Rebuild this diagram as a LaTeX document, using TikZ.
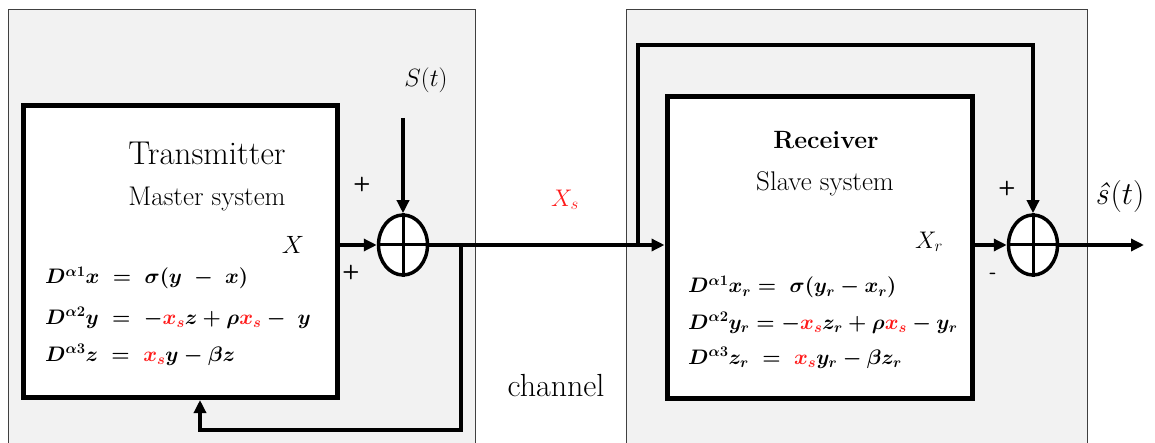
\RequirePackage{fix-cm}
\documentclass[tikz,border=0pt]{standalone}
\usepackage{amsmath}
\usetikzlibrary{arrows.meta,shapes.geometric,calc}
\definecolor{panelgray}{HTML}{F2F2F2}
\definecolor{xsred}{HTML}{FF1A1A}
\newcommand{\myxs}{{\color{xsred}x_s}}
\begin{document}
\begin{tikzpicture}[x=1pt,y=-1pt,
  panel/.style={draw=black!75, fill=panelgray, line width=0.9pt},
  sysbox/.style={rectangle, draw, fill=white, line width=5pt, inner sep=0pt},
  summer/.style={ellipse, draw, fill=white, line width=3.5pt, minimum width=49pt, minimum height=60pt, inner sep=0pt},
  sig/.style={line width=3.5pt},
  arr/.style={sig, -{Triangle[length=13pt,width=12pt]}},
  lbl/.style={inner sep=0pt},
  sign/.style={inner sep=0pt, font=\fontsize{20}{24}\selectfont\sffamily\bfseries},
  eqs/.style={inner sep=0pt, anchor=west, font=\fontsize{21}{25}\selectfont\boldmath}
]
\clip (0,0) rectangle (1155,443);
\fill[white] (0,0) rectangle (1155,443);
% panels
\draw[panel] (8,9) rectangle (475,460);
\draw[panel] (626,9) rectangle (1087,460);
% system boxes
\node[sysbox, minimum width=314pt, minimum height=291pt] (tx) at (180,251.5) {};
\node[sysbox, minimum width=305pt, minimum height=301pt] (rx) at (819.5,247.5) {};
% summing junctions
\node[summer] (sum1) at (403,245) {};
\node[summer] (sum2) at (1033,245) {};
\draw[line width=3pt] (sum1.north) -- (sum1.south) (sum1.west) -- (sum1.east);
\draw[line width=3pt] (sum2.north) -- (sum2.south) (sum2.west) -- (sum2.east);
% titles
\node[lbl, font=\fontsize{33}{38}\selectfont] (txt1) at (207,153) {Transmitter};
\node[lbl, font=\fontsize{27}{32}\selectfont] (txt2) at (207,199) {Master system};
\node[lbl, font=\fontsize{25}{30}\selectfont\bfseries] (rxt1) at (826,140) {Receiver};
\node[lbl, font=\fontsize{27}{32}\selectfont] (rxt2) at (825,184) {Slave system};
% equations
\node[eqs] (eqt1) at (45,278) {$D^{\alpha1}x \;=\; \sigma(y \;-\; x)$};
\node[eqs] (eqt2) at (45,318) {$D^{\alpha2}y \;=\; -\myxs z+\rho\myxs-\; y$};
\node[eqs] (eqt3) at (45,355) {$D^{\alpha3}z \;=\; \myxs y-\beta z$};
\node[eqs] (eqr1) at (688,287) {$D^{\alpha1}x_r = \;\sigma(y_r - x_r)$};
\node[eqs] (eqr2) at (688,323) {$D^{\alpha2}y_r = -\myxs z_r+\rho\myxs-y_r$};
\node[eqs] (eqr3) at (688,358) {$D^{\alpha3}z_r \;=\; \myxs y_r-\beta z_r$};
% signal labels
\node[lbl, font=\fontsize{25}{30}\selectfont] (lx) at (293,245) {$X$};
\node[lbl, font=\fontsize{24}{28}\selectfont] (lxr) at (929,242) {$X_r$};
\node[lbl, font=\fontsize{24}{28}\selectfont, text=xsred] (lxs) at (565,200) {$X_s$};
\node[lbl, font=\fontsize{25}{30}\selectfont] (lst) at (426,80) {$S(t)$};
\node[lbl, font=\fontsize{32}{36}\selectfont, anchor=west] (lsh) at (1095,197) {\textit{ŝ}$(t)$};
\node[lbl, font=\fontsize{32}{36}\selectfont] (lch) at (556,386) {channel};
% signs
\node[sign] (p1) at (362,185) {+};
\node[sign] (p2) at (351,272) {+};
\node[sign] (p3) at (1007,189) {+};
\node[sign] (m1) at (993,276) {-};
% coordinates
\coordinate (stin) at (403,118);
\coordinate (fbtop) at (461,245);
\coordinate (txfb) at (200,400);
\coordinate (br) at (638,247);
\coordinate (topr) at (1033,45);
\coordinate (out) at (1144,245);
% connectors
\draw[arr] (tx.east |- sum1) -- (sum1.west);
\draw[arr] (stin) -- (sum1.north);
\draw[arr] (sum1.east) -- (rx.west |- sum1);
\draw[arr] (fbtop) |- ($(txfb)+(0,30)$) -- (txfb);
\draw[arr] (br) |- (topr) -- (sum2.north);
\draw[arr] (rx.east |- sum2) -- (sum2.west);
\draw[arr] (sum2.east) -- (out);
\end{tikzpicture}
\end{document}
